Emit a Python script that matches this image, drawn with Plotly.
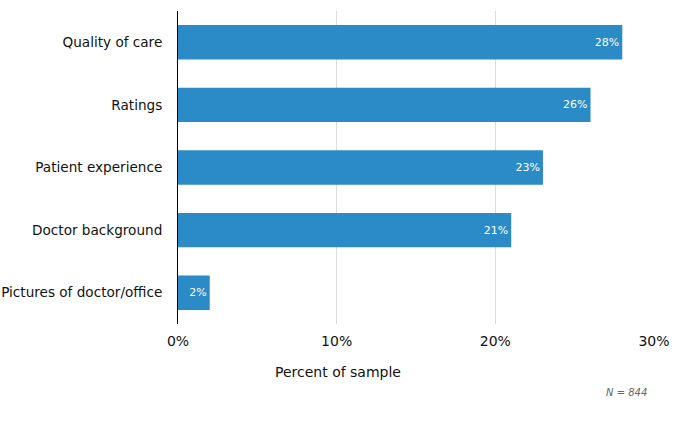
import plotly.graph_objects as go

categories = ["Quality of care", "Ratings", "Patient experience", "Doctor background", "Pictures of doctor/office"]
values = [28, 26, 23, 21, 2]
tick_vals = [0, 10, 20, 30]
tick_text = ["0%", "10%", "20%", "30%"]
x_title = "Percent of sample"
note = "N = 844"

fig = go.Figure(go.Bar(
    x=values,
    y=categories,
    orientation="h",
    marker=dict(color="#2b8bc6", line=dict(width=0)),
    text=[f"{v}%" for v in values],
    textposition="inside",
    insidetextanchor="end",
    textfont=dict(family="DejaVu Sans", size=11, color="white"),
    constraintext="none",
    width=0.55,
    hoverinfo="skip",
))

fig.update_layout(
    width=675, height=422,
    margin=dict(l=178, r=21, t=11, b=98),
    paper_bgcolor="white", plot_bgcolor="white",
    font=dict(family="DejaVu Sans", size=14, color="#111"),
    showlegend=False,
    annotations=[
        dict(
            text=x_title, x=0.5, xref="paper", xanchor="center",
            y=-0.152, yref="paper", yanchor="middle", showarrow=False,
            font=dict(size=14, color="#111"), xshift=-(178 - 21) / 2,
        ),
        dict(
            text=f"<i>{note}</i>", x=1, xref="paper", xanchor="right",
            y=-0.22, yref="paper", yanchor="middle", showarrow=False,
            font=dict(size=10, color="#666"), xshift=-5,
        ),
    ],
)
fig.update_xaxes(
    range=[0, 30.0], tickvals=tick_vals, ticktext=tick_text,
    showgrid=True, gridcolor="#dcdcdc", gridwidth=1,
    zeroline=False, showline=False, automargin=False,
    ticks="", tickfont=dict(size=14), ticklabelstandoff=7,
)
fig.update_yaxes(
    categoryorder="array", categoryarray=categories[::-1],
    showline=True, linecolor="black", linewidth=1,
    showgrid=False, zeroline=False, ticks="", automargin=False,
    ticklabelstandoff=12, tickfont=dict(size=13.6),
)

fig.write_html("out.html", config={"displayModeBar": False, "staticPlot": True},
               post_script="document.body.style.margin='0';")
